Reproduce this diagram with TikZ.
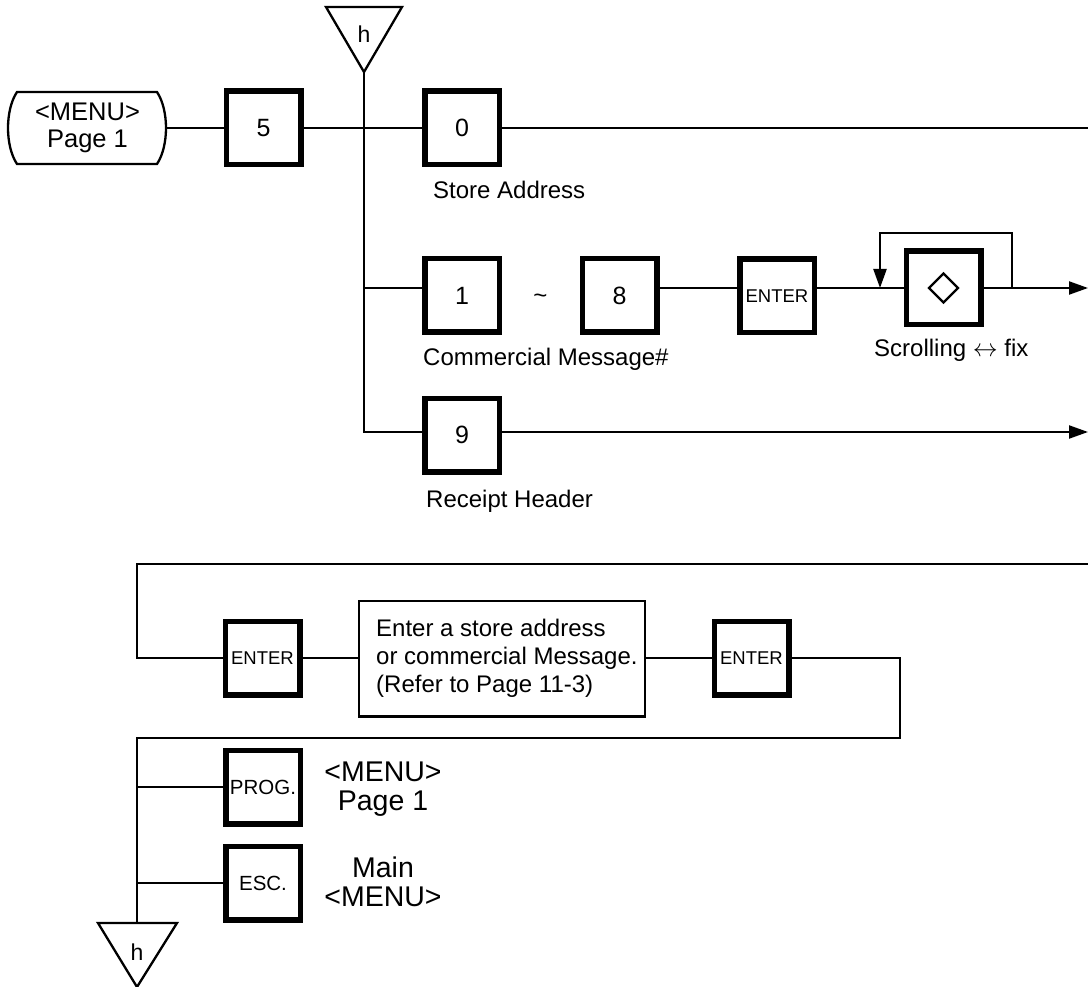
\documentclass[tikz,border=0pt]{standalone}
\usepackage{fontspec}
\setmainfont{Liberation Sans}
\usetikzlibrary{arrows.meta}
\begin{document}
\begin{tikzpicture}[x=1pt,y=-1pt,
  conn/.style={line width=2.3pt},
  arr/.style={conn,-{Triangle[length=19pt,width=13pt]}},
  key/.style={draw,line width=5.5pt,minimum width=74.5pt,minimum height=73.5pt,inner sep=0pt,font=\fontsize{25}{28}\selectfont},
  enterkey/.style={key,font=\fontsize{18.5}{20}\selectfont},
  fnkey/.style={key,font=\fontsize{20.5}{22}\selectfont},
  lbl/.style={inner sep=0pt,font=\fontsize{24}{28}\selectfont},
  biglbl/.style={inner sep=0pt,align=center,font=\fontsize{28.5}{29}\selectfont},
  hlbl/.style={inner sep=0pt,anchor=base,font=\fontsize{23}{23}\selectfont},
]
\useasboundingbox (0,0) rectangle (1088,987);

% ---- start terminal
\node[inner sep=0pt,minimum width=158pt,minimum height=72pt,align=center,
      font=\fontsize{25.5}{27}\selectfont] (term) at (87.5,128) {<MENU>\\Page 1};
\draw[conn] (17,92) -- (157,92) .. controls (169,110) and (169,146) .. (157,164)
  -- (17,164) .. controls (5,146) and (5,110) .. (17,92) -- cycle;

% ---- top connector triangle
\draw[conn,line join=miter] (326,7) -- (402,7) -- (364,72) -- cycle;
\node[hlbl] (htop) at (364,43) {h};
\coordinate (ttip) at (364,72);

% ---- row 1
\node[key] (k5) at (263.5,128) {5};
\node[key] (k0) at (462,128) {0};
\node[lbl,anchor=base west] (lstore) at (433,199) {Store Address};
\coordinate (out1) at (1088,128);

% ---- row 2
\coordinate (j2) at (364,288);
\node[key] (k1) at (462,295.5) {1};
\node[lbl] (tilde) at (540.5,299) {\textasciitilde};
\node[key] (k8) at (619.5,295.5) {8};
\node[enterkey] (enA) at (777,296) {ENTER};
\node[key] (kd) at (943.5,288) {};
\draw[line width=2.3pt] (kd.center) +(0,-14.5) -- +(14.5,0) -- +(0,14.5) -- +(-14.5,0) -- cycle;
\node[lbl,anchor=base west] (lcm) at (423,365) {Commercial Message\#};
\node[lbl,anchor=base west] (lscroll) at (874,356) {Scrolling $\leftrightarrow$ fix};
\coordinate (lr) at (1012,288);
\coordinate (ll) at (880,288);
\coordinate (out2) at (1088,288);

% ---- row 3
\coordinate (j3) at (364,432);
\node[key] (k9) at (462,435) {9};
\node[lbl,anchor=base west] (lrh) at (426,507) {Receipt Header};
\coordinate (out3) at (1088,432);

% ---- connectors, upper part
\draw[conn] (term.east) -- (k5.west);
\draw[conn] (k5.east) -- (k0.west);
\draw[conn] (k0.east) -- (out1);
\draw[conn] (ttip) -- (j3) -- (j3 -| k9.west);
\draw[conn] (j2) -- (j2 -| k1.west);
\draw[conn] (j2 -| k8.east) -- (j2 -| enA.west);
\draw[conn] (j2 -| enA.east) -- (kd.west);
\draw[arr] (kd.east) -- (out2);
\draw[arr] (lr) -- ++(0,-55) -| (ll);
\draw[arr] (k9.east |- j3) -- (out3);

% ---- lower part
\coordinate (r1) at (1088,564);
\coordinate (c1) at (137,564);
\node[enterkey] (e1) at (262.5,658) {ENTER};
\node[draw,line width=2.3pt,minimum width=285.7pt,minimum height=115.7pt,inner sep=0pt] (tb) at (502,658.5) {};
\node[lbl,anchor=west,align=left] (tbtext) at (376,658)
  {Enter a store address\\or commercial Message.\\(Refer to Page 11-3)};
\node[enterkey] (e2) at (751.5,658) {ENTER};
\coordinate (c2) at (900,738);
\coordinate (c3) at (137,738);
\node[fnkey] (prog) at (263,787) {PROG.};
\node[fnkey] (esc) at (263,883) {ESC.};
\node[biglbl] (lmenu) at (383,789) {<MENU>\\Page 1};
\node[biglbl] (lmain) at (383,882) {Main\\<MENU>};
\coordinate (b1) at (137,787);
\coordinate (b2) at (137,883);
\coordinate (btop) at (137,923);
\draw[conn,line join=miter] (98,923) -- (177,923) -- (137,987) -- cycle;
\node[hlbl] (hbot) at (137,960) {h};

\draw[conn] (r1) -- (c1) |- (e1.west);
\draw[conn] (e1.east) -- (e1.east -| tb.west);
\draw[conn] (e2.west -| tb.east) -- (e2.west);
\draw[conn] (e2.east) -| (c2) -- (c3) -- (btop);
\draw[conn] (b1) -- (prog.west);
\draw[conn] (b2) -- (esc.west);
\end{tikzpicture}
\end{document}
